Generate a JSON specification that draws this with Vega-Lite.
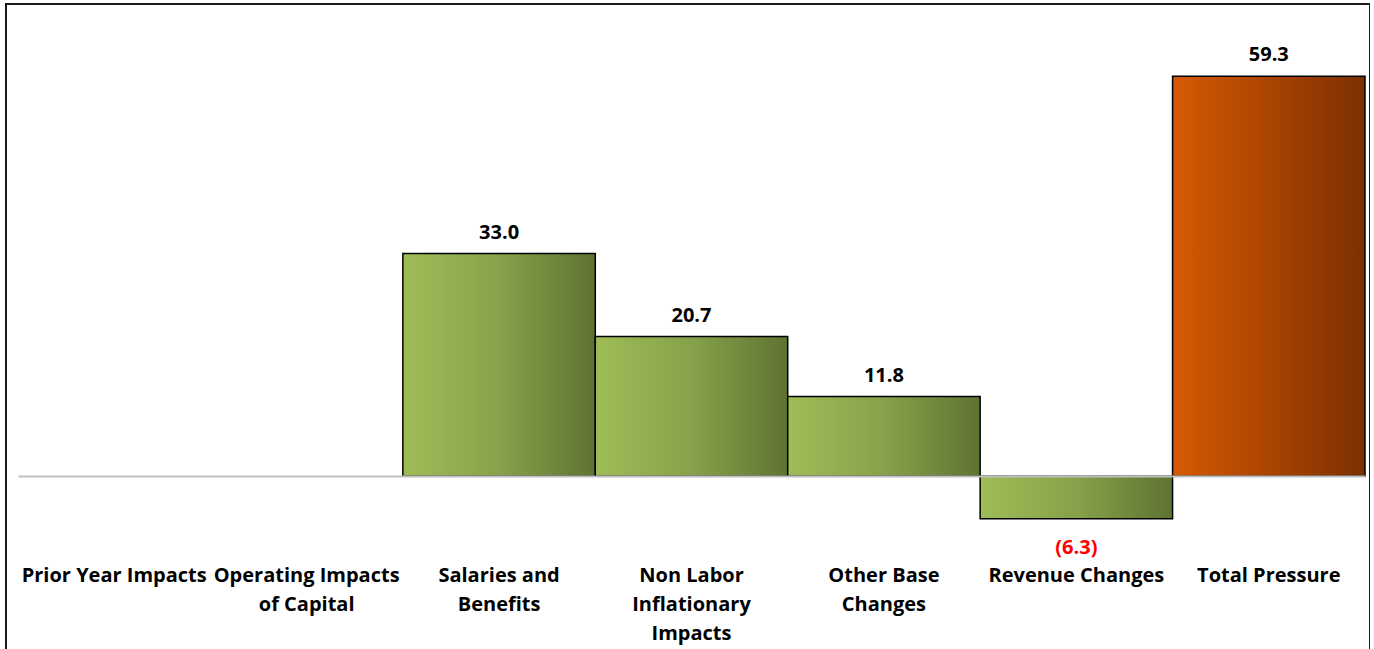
{
  "$schema": "https://vega.github.io/schema/vega-lite/v6.json",
  "autosize": "none",
  "padding": {"left": 6, "top": 4, "right": 0, "bottom": 0},
  "width": 1364,
  "height": 651,
  "background": "white",
  "config": {
    "view": {"stroke": "#1a1a1a", "strokeWidth": 2},
    "font": "Open Sans"
  },
  "data": {
    "values": [
      {"category": "Salaries and Benefits", "value": 33.0, "label": "33.0"},
      {"category": "Non Labor Inflationary Impacts", "value": 20.7, "label": "20.7"},
      {"category": "Other Base Changes", "value": 11.8, "label": "11.8"},
      {"category": "Revenue Changes", "value": -6.3, "label": "(6.3)"},
      {"category": "Total Pressure", "value": 59.3, "label": "59.3"}
    ]
  },
  "encoding": {
    "x": {
      "field": "category",
      "type": "nominal",
      "sort": null,
      "scale": {
        "domain": ["Prior Year Impacts", "Operating Impacts of Capital", "Salaries and Benefits", "Non Labor Inflationary Impacts", "Other Base Changes", "Revenue Changes", "Total Pressure"],
        "range": [12, 1359],
        "paddingInner": 0,
        "paddingOuter": 0
      },
      "axis": {
        "title": null,
        "orient": "bottom",
        "offset": -179,
        "domainColor": "#BFBFBF",
        "domainWidth": 2,
        "ticks": false,
        "labelAngle": 0,
        "labelPadding": 89,
        "labelBaseline": "top",
        "labelFont": "Open Sans",
        "labelFontWeight": "bold",
        "labelFontSize": 20,
        "labelColor": "black",
        "labelLineHeight": 29,
        "labelOverlap": false,
        "labelLimit": 400,
        "zindex": 1,
        "labelExpr": "datum.label == 'Operating Impacts of Capital' ? ['Operating Impacts', 'of Capital'] : datum.label == 'Salaries and Benefits' ? ['Salaries and', 'Benefits'] : datum.label == 'Non Labor Inflationary Impacts' ? ['Non Labor', 'Inflationary', 'Impacts'] : datum.label == 'Other Base Changes' ? ['Other Base', 'Changes'] : datum.label"
      }
    },
    "y": {
      "field": "value",
      "type": "quantitative",
      "scale": {"domain": [-26.5, 70], "nice": false, "zero": false},
      "axis": null
    }
  },
  "layer": [
    {
      "transform": [{"filter": "datum.category != 'Total Pressure'"}],
      "mark": {
        "type": "bar",
        "stroke": "black",
        "strokeWidth": 1.5,
        "color": {
          "gradient": "linear",
          "x1": 0, "y1": 0, "x2": 1, "y2": 0,
          "stops": [
            {"offset": 0, "color": "#9EBD56"},
            {"offset": 0.5, "color": "#86A24A"},
            {"offset": 1, "color": "#5E7331"}
          ]
        }
      },
      "encoding": {"y2": {"datum": 0}}
    },
    {
      "transform": [{"filter": "datum.category == 'Total Pressure'"}],
      "mark": {
        "type": "bar",
        "stroke": "black",
        "strokeWidth": 1.5,
        "color": {
          "gradient": "linear",
          "x1": 0, "y1": 0, "x2": 1, "y2": 0,
          "stops": [
            {"offset": 0, "color": "#D65A05"},
            {"offset": 0.5, "color": "#AB4402"},
            {"offset": 1, "color": "#7A3000"}
          ]
        }
      },
      "encoding": {"y2": {"datum": 0}}
    },
    {
      "transform": [{"filter": "datum.value >= 0"}],
      "mark": {"type": "text", "font": "Open Sans", "fontWeight": "bold", "fontSize": 20, "color": "black", "baseline": "middle", "dy": -21},
      "encoding": {"text": {"field": "label"}}
    },
    {
      "transform": [{"filter": "datum.value < 0"}],
      "mark": {"type": "text", "font": "Open Sans", "fontWeight": "bold", "fontSize": 20, "color": "#FF0000", "baseline": "middle", "dy": 29},
      "encoding": {"text": {"field": "label"}}
    },
    {
      "data": {"values": [{"note": "($ Thousands)"}]},
      "mark": {"type": "text", "font": "Lato", "fontSize": 22, "color": "#C55A11", "align": "left", "baseline": "middle", "dx": 44},
      "encoding": {
        "x": {"datum": "Prior Year Impacts", "type": "nominal", "bandPosition": 0},
        "y": {"datum": 62.1, "type": "quantitative"},
        "text": {"field": "note"}
      }
    }
  ]
}
